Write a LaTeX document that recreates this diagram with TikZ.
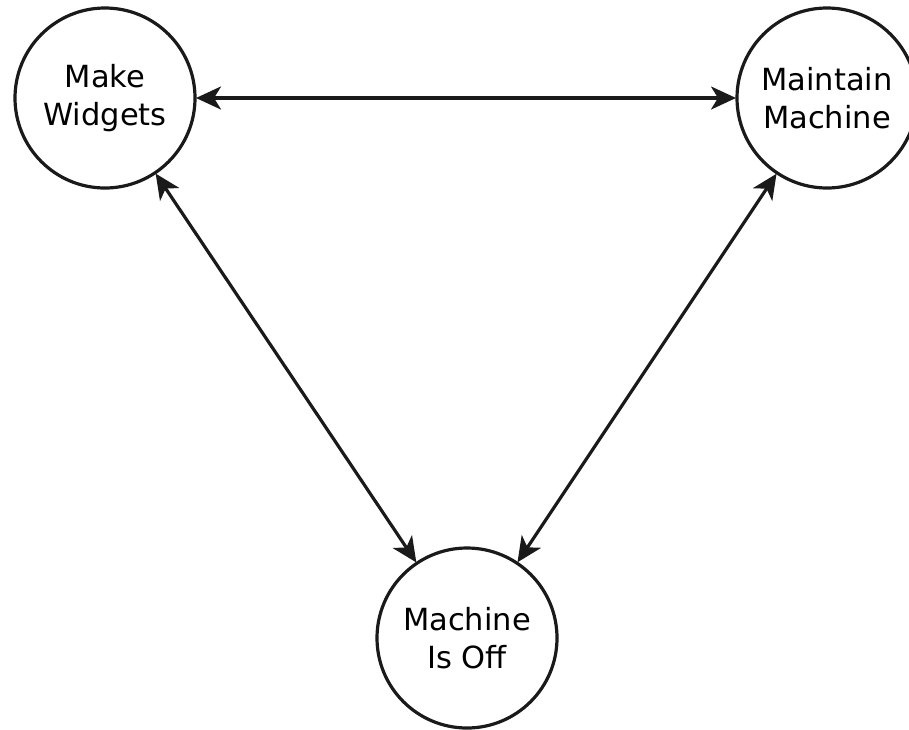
\documentclass[tikz,border=0pt]{standalone}
\usepackage{fontspec}
\setmainfont{DejaVu Sans}
\usetikzlibrary{arrows.meta}
\definecolor{ink}{HTML}{1A1A1A}
\tikzset{
  state/.style={circle, draw=ink, line width=3.2pt, minimum size=180pt, inner sep=0pt, outer sep=0pt,
    align=center, font=\fontsize{30.5}{38}\selectfont, text=black},
  link/.style={draw=ink, line width=3.2pt, {Stealth[length=25pt,width=23pt,inset=7pt]}-{Stealth[length=25pt,width=23pt,inset=7pt]}, shorten <=1pt, shorten >=1pt}
}
\begin{document}
\begin{tikzpicture}[x=1pt,y=-1pt]
\useasboundingbox[fill=white] (0,0) rectangle (909,729);
\node[state] (mw) at (105,98) {Make\\Widgets};
\node[state] (mm) at (827,98) {Maintain\\Machine};
\node[state] (off) at (467,638) {Machine\\Is Off};
\draw[link] (mw) -- (mm);
\draw[link] (mw) -- (off);
\draw[link] (mm) -- (off);
\end{tikzpicture}
\end{document}
